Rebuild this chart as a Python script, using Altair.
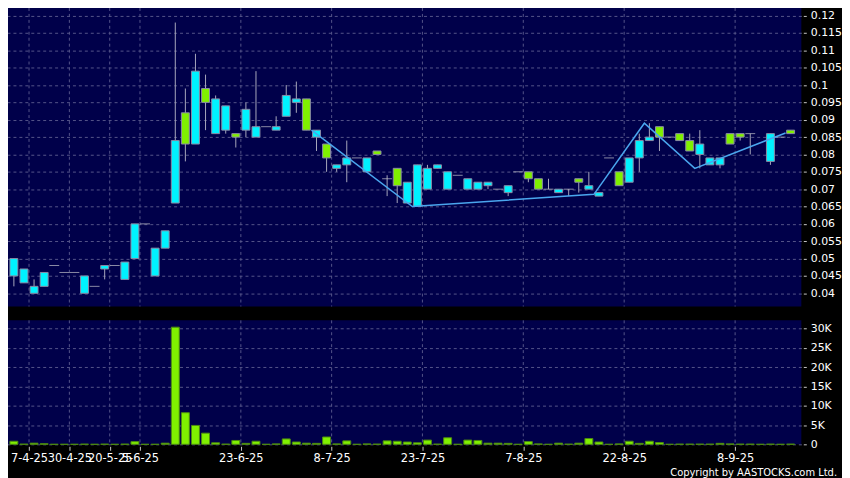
import altair as alt
import pandas as pd

# ---------------- data ----------------
# None = no candle drawn for that slot
opens = [0.045, 0.043, 0.040, 0.042, 0.048, 0.046, 0.046, 0.040, 0.042, 0.047,
         0.048, 0.044, 0.050, 0.060, 0.045, 0.053, 0.066, 0.092, 0.083, 0.099,
         0.086, 0.087, 0.086, 0.087, 0.085, 0.088, 0.087, 0.091, 0.095, 0.096,
         0.085, 0.083, 0.076, 0.077, 0.079, 0.075, 0.081, 0.073, 0.076, 0.066,
         0.065, 0.070, 0.076, 0.070, 0.074, 0.070, 0.070, 0.071, 0.070, 0.069,
         0.075, 0.075, 0.073, 0.070, 0.069, 0.070, 0.073, 0.070, 0.068, 0.079,
         0.075, 0.072, 0.079, 0.084, 0.088, 0.085, 0.086, 0.084, 0.080, 0.077,
         0.077, 0.086, 0.086, 0.086, None, 0.078, 0.085, 0.087]
closes = [0.050, 0.047, 0.042, 0.046, 0.048, 0.046, 0.046, 0.045, 0.042, 0.048,
          0.048, 0.049, 0.060, 0.060, 0.053, 0.058, 0.084, 0.083, 0.104, 0.095,
          0.096, 0.094, 0.085, 0.093, 0.088, 0.088, 0.088, 0.097, 0.096, 0.087,
          0.087, 0.079, 0.077, 0.079, 0.079, 0.079, 0.080, 0.073, 0.071, 0.072,
          0.077, 0.076, 0.077, 0.075, 0.074, 0.073, 0.072, 0.072, 0.070, 0.071,
          0.075, 0.073, 0.070, 0.070, 0.070, 0.070, 0.072, 0.071, 0.069, 0.079,
          0.071, 0.079, 0.084, 0.085, 0.085, 0.085, 0.084, 0.081, 0.083, 0.079,
          0.079, 0.083, 0.085, 0.086, None, 0.086, 0.085, 0.086]
highs = [0.050, 0.047, 0.044, 0.046, 0.048, 0.046, 0.046, 0.045, 0.042, 0.048,
         0.048, 0.049, 0.060, 0.060, 0.053, 0.058, 0.118, 0.099, 0.109, 0.103,
         0.097, 0.094, 0.086, 0.095, 0.104, 0.088, 0.091, 0.100, 0.101, 0.096,
         0.087, 0.083, 0.077, 0.084, 0.079, 0.079, 0.081, 0.074, 0.076, 0.072,
         0.077, 0.077, 0.077, 0.075, 0.074, 0.073, 0.072, 0.072, 0.070, 0.071,
         0.075, 0.075, 0.073, 0.073, 0.070, 0.070, 0.073, 0.075, 0.069, 0.079,
         0.075, 0.079, 0.086, 0.089, 0.088, 0.085, 0.086, 0.086, 0.087, 0.079,
         0.079, 0.086, 0.086, 0.086, None, 0.086, 0.085, 0.087]
lows = [0.042, 0.043, 0.040, 0.042, 0.048, 0.046, 0.046, 0.040, 0.042, 0.044,
        0.048, 0.044, 0.050, 0.060, 0.045, 0.053, 0.066, 0.078, 0.083, 0.087,
        0.086, 0.086, 0.082, 0.085, 0.085, 0.088, 0.087, 0.091, 0.092, 0.087,
        0.081, 0.075, 0.075, 0.072, 0.079, 0.075, 0.080, 0.068, 0.066, 0.066,
        0.065, 0.070, 0.076, 0.070, 0.074, 0.070, 0.070, 0.070, 0.070, 0.068,
        0.075, 0.072, 0.070, 0.070, 0.069, 0.068, 0.069, 0.070, 0.068, 0.079,
        0.071, 0.072, 0.075, 0.084, 0.081, 0.085, 0.084, 0.081, 0.076, 0.077,
        0.076, 0.083, 0.084, 0.080, None, 0.077, 0.085, 0.086]
volumes = [800, 50, 300, 150, 0, 0, 0, 50, 0, 50,
           0, 50, 700, 0, 0, 300, 30400, 8200, 4900, 2900,
           400, 50, 1000, 250, 800, 0, 100, 1400, 600, 300,
           250, 1900, 100, 900, 0, 100, 50, 900, 800, 600,
           400, 1100, 50, 1700, 0, 1100, 1000, 300, 300, 250,
           0, 700, 100, 0, 300, 50, 300, 1500, 600, 0,
           100, 800, 250, 800, 450, 0, 50, 50, 50, 50,
           250, 100, 50, 50, 0, 50, 0, 50]

date_tick_pos = [1.5, 5.5, 9.5, 12.5, 22.5, 31.5, 40.5, 50.5, 60.5, 71.5]
date_tick_labels = ["7-4-25", "30-4-25", "20-5-25", "5-6-25", "23-6-25",
                    "8-7-25", "23-7-25", "7-8-25", "22-8-25", "8-9-25"]
price_ticks = [0.04, 0.045, 0.05, 0.055, 0.06, 0.065, 0.07, 0.075, 0.08,
               0.085, 0.09, 0.095, 0.1, 0.105, 0.11, 0.115, 0.12]
volume_ticks = [0, 5000, 10000, 15000, 20000, 25000, 30000]
zigzag_x = [29.5, 39.5, 57.5, 62.5, 67.5, 76.5]
zigzag_y = [0.087, 0.065, 0.0685, 0.089, 0.076, 0.0862]

# ---------------- tables ----------------
n = len(opens)
df = pd.DataFrame({
    "i": list(range(n)), "open": opens, "close": closes,
    "high": highs, "low": lows, "volume": volumes,
})
df["lo"] = df[["open", "close"]].min(axis=1)
df["hi"] = df[["open", "close"]].max(axis=1)


def kind_of(o, c):
    if o is None or c is None:
        return "none"
    return "up" if c > o else ("down" if c < o else "flat")


df["kind"] = [kind_of(o, c) for o, c in zip(opens, closes)]
candles = df[df["kind"] != "none"]
grid_df = pd.DataFrame({"pos": date_tick_pos})
zz_df = pd.DataFrame({"x": zigzag_x, "y": zigzag_y})

# ---------------- styling ----------------
NAVY = "#00004a"
CYAN = "#00f2ff"
GREEN = "#80f000"
EDGE = "#8a8aa6"
WICK = "#a8a8bc"
GRID = "#55558a"
FONT = "DejaVu Sans"

xscale = alt.Scale(domain=[-0.4854, 77.573], nice=False, zero=False)
pscale = alt.Scale(domain=[0.0362, 0.1222], nice=False, zero=False)
vscale = alt.Scale(domain=[0, 32160], nice=False, zero=False)


def right_axis(values, **kw):
    return alt.Axis(orient="right", values=values, grid=True, gridColor=GRID,
                    gridDash=[3, 3], gridWidth=1, domain=False, ticks=True,
                    tickSize=3, tickColor="#c8c8c8", offset=2, labelPadding=4,
                    labelColor="white", labelFont=FONT, labelFontSize=11,
                    title=None, labelOverlap=False, **kw)


paxis = right_axis(price_ticks, format="~g")
vaxis = right_axis(volume_ticks,
                   labelExpr="datum.value == 0 ? '0' : (datum.value / 1000) + 'K'")

xlabel_expr = "{}[indexof({}, datum.value)]".format(
    "[" + ",".join("'%s'" % s for s in date_tick_labels) + "]",
    "[" + ",".join(str(p) for p in date_tick_pos) + "]")

W = 804

# ---------------- price panel ----------------
vgrid = alt.Chart(grid_df).mark_rule(color=GRID, strokeDash=[3, 3], strokeWidth=1).encode(
    x=alt.X("pos:Q", scale=xscale, axis=None))

wicks = alt.Chart(candles).mark_rule(color=WICK, strokeWidth=1).encode(
    x=alt.X("i:Q", scale=xscale, axis=None),
    y=alt.Y("low:Q", scale=pscale, axis=paxis),
    y2="high:Q")

bodies = alt.Chart(candles[candles["kind"].isin(["up", "down"])]).mark_bar(
    size=8, stroke=EDGE, strokeWidth=1).encode(
    x=alt.X("i:Q", scale=xscale, axis=None),
    y=alt.Y("lo:Q", scale=pscale, axis=paxis),
    y2="hi:Q",
    fill=alt.Fill("kind:N", scale=alt.Scale(domain=["up", "down"], range=[CYAN, GREEN]),
                  legend=None))

flats = alt.Chart(candles[candles["kind"] == "flat"]).mark_tick(
    orient="horizontal", size=10, thickness=1, color="#c4c4cc").encode(
    x=alt.X("i:Q", scale=xscale, axis=None),
    y=alt.Y("close:Q", scale=pscale, axis=paxis))

zigzag = alt.Chart(zz_df).mark_line(color="#4aa6ee", strokeWidth=1.5).encode(
    x=alt.X("x:Q", scale=xscale, axis=None),
    y=alt.Y("y:Q", scale=pscale, axis=paxis))

price = alt.layer(vgrid, wicks, bodies, flats, zigzag).properties(width=W, height=301)

# ---------------- volume panel ----------------
xaxis = alt.Axis(values=date_tick_pos, labelExpr=xlabel_expr, grid=False, domain=False,
                 ticks=True, tickSize=4, tickColor="#c8c8c8", offset=2, labelPadding=2,
                 labelColor="white", labelFont=FONT, labelFontSize=11.5, title=None,
                 labelOverlap=False, labelFlush=False, labelBound=False)

vgrid2 = alt.Chart(grid_df).mark_rule(color=GRID, strokeDash=[3, 3], strokeWidth=1).encode(
    x=alt.X("pos:Q", scale=xscale, axis=xaxis))

vbars = alt.Chart(df).mark_bar(size=8, color=GREEN, stroke="#4c8a10", strokeWidth=1).encode(
    x=alt.X("i:Q", scale=xscale, axis=xaxis),
    y=alt.Y("volume:Q", scale=vscale, axis=vaxis))

copyright_txt = alt.Chart(pd.DataFrame({"t": ["Copyright by AASTOCKS.com Ltd."]})).mark_text(
    align="right", baseline="middle", color="white", font=FONT, fontSize=10).encode(
    text="t:N", x=alt.value(840), y=alt.value(153.5))

volume = alt.layer(vgrid2, vbars, copyright_txt).properties(width=W, height=125)

chart = alt.vconcat(price, volume, spacing=12).properties(
    background="black",
    padding={"left": -4, "top": -3, "right": 0, "bottom": 0},
).configure_view(fill=NAVY, stroke=None)

chart.save("out.html", embed_options={"renderer": "svg", "actions": False})
